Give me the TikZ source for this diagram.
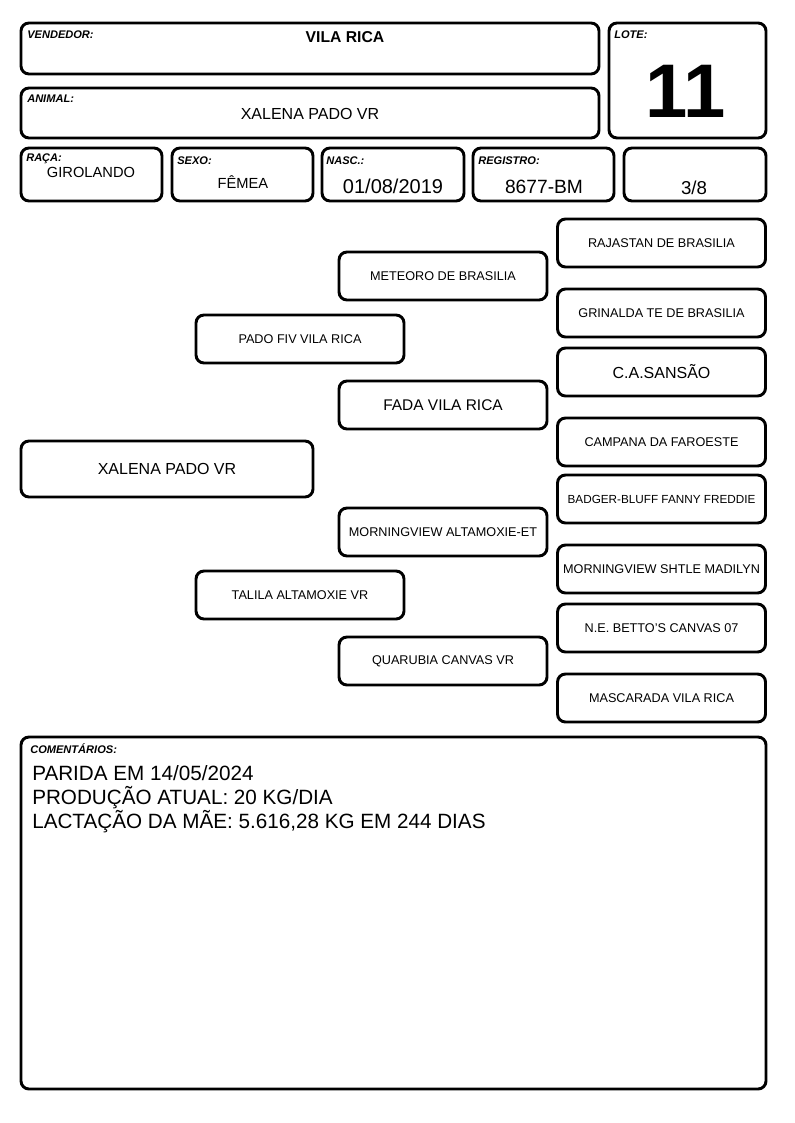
\documentclass[tikz,border=0pt]{standalone}
\usepackage{fontspec}
\setmainfont{Liberation Sans}

\tikzset{
  box/.style={draw, line width=2.2pt, rounded corners=6pt, inner sep=0pt},
  pbox/.style={box, minimum width=156pt, minimum height=36pt, font=\fontsize{9.5}{11}\selectfont},
  lbl/.style={anchor=base west, inner sep=0pt, font=\fontsize{8.3}{9}\selectfont\bfseries\itshape},
  val/.style={anchor=base, inner sep=0pt},
}

\begin{document}
\begin{tikzpicture}
    [x=0.75pt,y=-0.75pt]
    \useasboundingbox (0,0) rectangle (794,1123);

    % header boxes
    \node[box, minimum width=433.5pt, minimum height=38.25pt] (vend) at (310,48.5) {};
    \node[box, minimum width=433.5pt, minimum height=37.5pt] (animal) at (310,113) {};
    \node[box, minimum width=117.75pt, minimum height=86.25pt] (lote) at (687.5,80.5) {};
    \node[box, minimum width=105.75pt, minimum height=39.75pt] (raca) at (91.5,174.5) {};
    \node[box, minimum width=105.75pt, minimum height=39.75pt] (sexo) at (242.5,174.5) {};
    \node[box, minimum width=106.5pt, minimum height=39.75pt] (nasc) at (393,174.5) {};
    \node[box, minimum width=105.75pt, minimum height=39.75pt] (reg) at (543.5,174.5) {};
    \node[box, minimum width=106.5pt, minimum height=39.75pt] (grau) at (695,174.5) {};

    \node[lbl] (lvend) at (27,39) {VENDEDOR:};
    \node[val, font=\fontsize{11.8}{13}\selectfont\bfseries] (tvend) at (345,43) {VILA RICA};
    \node[lbl] (lanimal) at (27,103) {ANIMAL:};
    \node[val, font=\fontsize{12}{13}\selectfont] (tanimal) at (310,120) {XALENA PADO VR};
    \node[lbl] (llote) at (614,39) {LOTE:};
    \node[val, font=\fontsize{57}{60}\selectfont\bfseries] (tlote) at (686,118) {11};
    \node[lbl] (lraca) at (26,162) {RAÇA:};
    \node[val, font=\fontsize{11}{13}\selectfont] (traca) at (91,178) {GIROLANDO};
    \node[lbl] (lsexo) at (177,165) {SEXO:};
    \node[val, font=\fontsize{11}{13}\selectfont] (tsexo) at (243,189) {FÊMEA};
    \node[lbl] (lnasc) at (326,165) {NASC.:};
    \node[val, font=\fontsize{15}{16}\selectfont] (tnasc) at (393,194) {01/08/2019};
    \node[lbl] (lreg) at (478,165) {REGISTRO:};
    \node[val, font=\fontsize{14.4}{16}\selectfont] (treg) at (544,194) {8677-BM};
    \node[val, font=\fontsize{14}{16}\selectfont] (tgrau) at (694,195) {3/8};

    % pedigree
    \node[box, minimum width=219pt, minimum height=42pt, font=\fontsize{12}{13}\selectfont] (p1) at (167,469) {XALENA PADO VR};

    \node[pbox] (p2) at (300,339) {PADO FIV VILA RICA};
    \node[pbox] (p3) at (300,595) {TALILA ALTAMOXIE VR};

    \node[pbox] (p4) at (443,276) {METEORO DE BRASILIA};
    \node[pbox, font=\fontsize{11.6}{13}\selectfont] (p5) at (443,405) {FADA VILA RICA};
    \node[pbox] (p6) at (443,532) {MORNINGVIEW ALTAMOXIE-ET};
    \node[pbox] (p7) at (443,661) {QUARUBIA CANVAS VR};

    \node[pbox] (p8) at (661.5,243) {RAJASTAN DE BRASILIA};
    \node[pbox] (p9) at (661.5,313) {GRINALDA TE DE BRASILIA};
    \node[pbox, font=\fontsize{12}{14}\selectfont] (p10) at (661.5,372) {C.A.SANSÃO};
    \node[pbox] (p11) at (661.5,442) {CAMPANA DA FAROESTE};
    \node[pbox, font=\fontsize{8.8}{10}\selectfont] (p12) at (661.5,499) {BADGER-BLUFF FANNY FREDDIE};
    \node[pbox] (p13) at (661.5,569) {MORNINGVIEW SHTLE MADILYN};
    \node[pbox] (p14) at (661.5,628) {N.E. BETTO'S CANVAS 07};
    \node[pbox] (p15) at (661.5,698) {MASCARADA VILA RICA};

    % comments
    \node[box, minimum width=558.75pt, minimum height=264pt] (coment) at (393.5,913) {};
    \node[lbl] (lcoment) at (30,753) {COMENTÁRIOS:};
    \node[anchor=base west, inner sep=0pt, font=\fontsize{15.5}{18}\selectfont] (t1) at (32,780) {PARIDA EM 14/05/2024};
    \node[anchor=base west, inner sep=0pt, font=\fontsize{15.5}{18}\selectfont] (t2) at (32,804) {PRODUÇÃO ATUAL: 20 KG/DIA};
    \node[anchor=base west, inner sep=0pt, font=\fontsize{15.5}{18}\selectfont] (t3) at (32,828) {LACTAÇÃO DA MÃE: 5.616,28 KG EM 244 DIAS};
\end{tikzpicture}
\end{document}
